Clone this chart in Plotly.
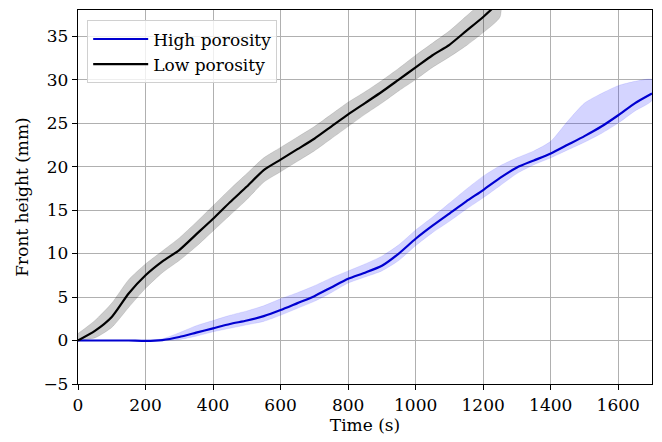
import plotly.graph_objects as go

# Time samples (s)
time_low = [0, 50, 100, 150, 200, 250, 300, 350, 400, 450, 500, 550, 600, 650,
            700, 750, 800, 850, 900, 950, 1000, 1050, 1100, 1150, 1200, 1250]
low_mean = [0, 1.1, 2.7, 5.4, 7.5, 9.1, 10.4, 12.2, 14.0, 15.9, 17.7, 19.6, 20.8, 22.0,
            23.2, 24.6, 26.0, 27.3, 28.6, 30.0, 31.4, 32.8, 34.0, 35.6, 37.2, 39.0]
low_upper = [0.8, 2.3, 4.3, 7.0, 8.8, 10.3, 11.8, 13.6, 15.5, 17.4, 19.2, 21.0, 22.2, 23.4,
             24.6, 26.0, 27.4, 28.6, 29.9, 31.3, 32.8, 34.2, 35.6, 37.3, 39.0, 40.8]
low_lower = [0.0, 0.3, 1.5, 3.8, 6.0, 7.8, 9.2, 10.8, 12.6, 14.4, 16.2, 18.2, 19.4, 20.6,
             21.8, 23.2, 24.6, 26.0, 27.3, 28.7, 30.0, 31.4, 32.6, 33.9, 35.4, 37.2]

time_high = [0, 50, 100, 150, 200, 250, 300, 350, 400, 450, 500, 550, 600, 650, 700, 750,
             800, 850, 900, 950, 1000, 1050, 1100, 1150, 1200, 1250, 1300, 1350, 1400,
             1450, 1500, 1550, 1600, 1650, 1700]
high_mean = [0, 0, 0, 0, -0.05, 0.05, 0.4, 0.9, 1.4, 1.9, 2.3, 2.8, 3.5, 4.3, 5.1, 6.1,
             7.1, 7.8, 8.6, 10.0, 11.7, 13.2, 14.6, 16.0, 17.3, 18.7, 19.9, 20.7, 21.5,
             22.5, 23.5, 24.6, 25.9, 27.3, 28.4]
high_upper = [0, 0, 0, 0, 0, 0.2, 0.9, 1.7, 2.3, 2.9, 3.4, 4.0, 4.8, 5.5, 6.3, 7.2,
              8.0, 8.8, 9.7, 11.0, 12.7, 14.2, 15.8, 17.4, 18.9, 20.1, 21.0, 21.8, 22.9,
              25.2, 27.3, 28.4, 29.3, 29.8, 30.0]
high_lower = [0, 0, 0, 0, -0.1, 0, 0.1, 0.5, 1.0, 1.4, 1.8, 2.2, 2.9, 3.7, 4.5, 5.5,
              6.6, 7.3, 8.0, 9.2, 10.9, 12.4, 13.7, 15.1, 16.4, 17.8, 19.2, 20.2, 21.0,
              21.9, 22.8, 23.8, 25.0, 26.4, 27.6]

x_ticks = [0, 200, 400, 600, 800, 1000, 1200, 1400, 1600]
y_ticks = [-5, 0, 5, 10, 15, 20, 25, 30, 35]

FONT = "DejaVu Serif"
FS = 17

fig = go.Figure()
fig.add_trace(go.Scatter(x=time_high + time_high[::-1], y=high_upper + high_lower[::-1],
                         fill="toself", fillcolor="rgba(0,0,255,0.17)",
                         line=dict(width=0.6, color="rgba(0,0,255,0.15)", shape="spline", smoothing=0.6),
                         showlegend=False, hoverinfo="skip"))
fig.add_trace(go.Scatter(x=time_low + time_low[::-1], y=low_upper + low_lower[::-1],
                         fill="toself", fillcolor="rgba(0,0,0,0.2)",
                         line=dict(width=0.6, color="rgba(0,0,0,0.18)", shape="spline", smoothing=0.6),
                         showlegend=False, hoverinfo="skip"))
fig.add_trace(go.Scatter(x=time_high, y=high_mean, mode="lines", name="High porosity",
                         line=dict(color="#0000d0", width=2.2, shape="spline", smoothing=0.6)))
fig.add_trace(go.Scatter(x=time_low, y=low_mean, mode="lines", name="Low porosity",
                         line=dict(color="black", width=2.2, shape="spline", smoothing=0.6)))

axis_common = dict(showgrid=True, gridcolor="#b0b0b0", gridwidth=1.3,
                   showline=True, linecolor="black", linewidth=1.3, mirror=True,
                   ticks="outside", ticklen=5, tickwidth=1.2, tickcolor="black",
                   zeroline=False, tickfont=dict(family=FONT, size=FS, color="black"))

fig.update_layout(
    width=662, height=442,
    margin=dict(l=78, r=10, t=10, b=58),
    paper_bgcolor="white", plot_bgcolor="white",
    font=dict(family=FONT, size=FS, color="black"),
    xaxis=dict(range=[0, 1700], tickvals=x_ticks,
               title=dict(text="Time (s)", font=dict(family=FONT, size=FS), standoff=2),
               **axis_common),
    yaxis=dict(range=[-5, 38], tickvals=y_ticks,
               ticktext=["\u22125"] + [str(v) for v in y_ticks[1:]],
               title=dict(text="Front height (mm)", font=dict(family=FONT, size=FS), standoff=10),
               **axis_common),
    legend=dict(x=0.016, y=0.972, xanchor="left", yanchor="top",
                bgcolor="rgba(255,255,255,0.8)", bordercolor="#d0d0d0", borderwidth=1,
                font=dict(family=FONT, size=FS), itemwidth=55, tracegroupgap=0),
)

fig.write_html("out.html")
